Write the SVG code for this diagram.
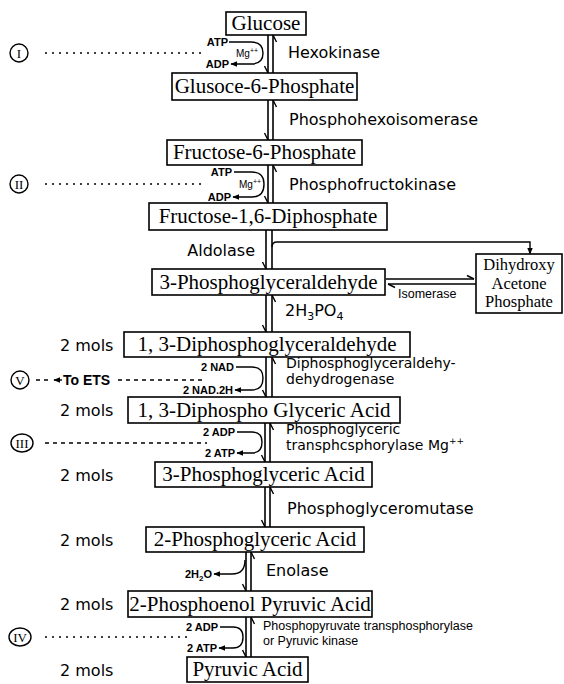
<svg xmlns="http://www.w3.org/2000/svg" width="564" height="684" viewBox="0 0 564 684">
<style>
.box{fill:#fff;stroke:#000;stroke-width:1.6}
.bt{font-family:"Liberation Serif","Times New Roman",serif;font-size:21px;fill:#000;text-anchor:middle}
.bt2{font-family:"Liberation Serif","Times New Roman",serif;font-size:16.5px;fill:#000;text-anchor:middle}
.enz{font-family:"DejaVu Sans","Liberation Sans",sans-serif;font-size:16px;fill:#000}
.enz2{font-family:"DejaVu Sans","Liberation Sans",sans-serif;font-size:14px;fill:#000}
.enz3{font-family:"Liberation Sans",Arial,sans-serif;font-size:12.5px;fill:#000}
.sm{font-family:"Liberation Sans",Arial,sans-serif;font-size:11px;font-weight:bold;fill:#000;text-anchor:end}
.mg{font-family:"Liberation Sans",Arial,sans-serif;font-size:10px;fill:#000}
.mol{font-family:"DejaVu Sans","Liberation Sans",sans-serif;font-size:16px;fill:#000}
.rn{font-family:"Liberation Serif","Times New Roman",serif;font-size:13px;fill:#000;text-anchor:middle}
.ets{font-family:"Liberation Sans",Arial,sans-serif;font-size:14px;font-weight:bold;fill:#000}
.ln{fill:none;stroke:#000;stroke-width:1.5}
.v{fill:none;stroke:#000;stroke-width:1.6;marker-end:url(#hp)}
.vn{fill:none;stroke:#000;stroke-width:1.6}
.cf{fill:none;stroke:#000;stroke-width:1.4;marker-end:url(#ah)}
.dot{fill:none;stroke:#000;stroke-width:1.6;stroke-dasharray:2 5}
.dash{fill:none;stroke:#000;stroke-width:1.4;stroke-dasharray:4 4}
.circ{fill:#fff;stroke:#000;stroke-width:1.4}
</style>
<defs>
<marker id="hp" markerUnits="userSpaceOnUse" viewBox="-9 -5 10 10" refX="0" refY="0" markerWidth="10" markerHeight="10" orient="auto" overflow="visible">
<path d="M0,0 L-7,3.5" fill="none" stroke="#000" stroke-width="1.4"/>
</marker>
<marker id="hpb" markerUnits="userSpaceOnUse" viewBox="-9 -5 10 10" refX="0" refY="0" markerWidth="10" markerHeight="10" orient="auto" overflow="visible">
<path d="M0,0 L-7,-3.5" fill="none" stroke="#000" stroke-width="1.4"/>
</marker>
<marker id="ah" markerUnits="userSpaceOnUse" viewBox="0 0 10 10" refX="9" refY="5" markerWidth="7" markerHeight="7" orient="auto">
<path d="M0,1 L10,5 L0,9 z" fill="#000"/>
</marker>
</defs>

<g id="connectors">
<path class="v" d="M268,35 V73"/>
<path class="v" d="M273,73 V35"/>
<path class="cf" d="M229,42 H251 Q263,42 263,53 Q263,64 251,64 H231"/>
<path class="v" d="M268,100 V140"/>
<path class="v" d="M273,140 V100"/>
<path class="v" d="M268,165 V203"/>
<path class="v" d="M273,203 V165"/>
<path class="cf" d="M234,172 H252 Q264,172 264,184 Q264,197 252,197 H233"/>
<path class="v" d="M266,230 V269"/>
<path class="vn" d="M272,269 V230"/>
<path class="cf" d="M272,247 Q272,242 277,242 H530 V254"/>
<path class="ln" d="M386,279 H474" marker-end="url(#hpb)"/>
<path class="ln" d="M476,284 H388" marker-end="url(#hpb)"/>
<path class="v" d="M266,295 V332"/>
<path class="v" d="M272,332 V295"/>
<path class="v" d="M266,357 V397"/>
<path class="v" d="M272,397 V357"/>
<path class="cf" d="M236,367 H252 Q263,367 263,378 Q263,390 252,390 H235"/>
<path class="v" d="M265,423 V462"/>
<path class="v" d="M270,462 V423"/>
<path class="cf" d="M237,432 H252 Q262,432 262,442 Q262,453 252,453 H237"/>
<path class="v" d="M265,487 V527"/>
<path class="v" d="M270,527 V487"/>
<path class="v" d="M246,552 V591"/>
<path class="v" d="M251,591 V552"/>
<path class="cf" d="M245,560 Q245,574 232,574 H214"/>
<path class="v" d="M246,617 V657"/>
<path class="v" d="M251,657 V617"/>
<path class="cf" d="M220,627 H233 Q243,627 243,637 Q243,648 233,648 H219"/>
<path class="dot" d="M45,53 H205"/>
<path class="dot" d="M45,184 H205"/>
<path class="dash" d="M36,380 H52"/>
<path class="cf" d="M62,380 H54"/>
<path class="dash" d="M118,380 H206"/>
<path class="dash" d="M45,443 H207"/>
<path class="dot" d="M45,637 H190"/>
</g>

<g id="markers">
<circle class="circ" cx="19" cy="53" r="9"/><text class="rn" x="19" y="58">I</text>
<circle class="circ" cx="19" cy="184" r="9"/><text class="rn" x="19" y="189">II</text>
<circle class="circ" cx="20" cy="380" r="9"/><text class="rn" x="20" y="385">V</text>
<ellipse class="circ" cx="22" cy="443" rx="11" ry="9"/><text class="rn" x="22" y="448">III</text>
<ellipse class="circ" cx="20" cy="637" rx="11" ry="9"/><text class="rn" x="20" y="642">IV</text>
<text class="ets" x="63" y="385">To ETS</text>
</g>

<g id="glucose"><rect class="box" x="226" y="12" width="80" height="23"/><text class="bt" x="266" y="30">Glucose</text></g>
<g id="g6p"><rect class="box" x="172" y="73" width="185" height="27"/><text class="bt" x="264.5" y="93">Glusoce-6-Phosphate</text></g>
<g id="f6p"><rect class="box" x="167" y="140" width="195" height="25"/><text class="bt" x="264.5" y="159">Fructose-6-Phosphate</text></g>
<g id="f16dp"><rect class="box" x="149" y="203" width="238" height="27"/><text class="bt" x="268" y="223">Fructose-1,6-Diphosphate</text></g>
<g id="pgal"><rect class="box" x="152" y="269" width="233" height="26"/><text class="bt" x="268.5" y="289">3-Phosphoglyceraldehyde</text></g>
<g id="dhap"><rect class="box" x="476" y="254" width="86" height="59"/><text class="bt2" x="519" y="270">Dihydroxy</text><text class="bt2" x="519" y="288.5">Acetone</text><text class="bt2" x="519" y="307">Phosphate</text></g>
<g id="dpgal"><rect class="box" x="124" y="332" width="286" height="25"/><text class="bt" x="267" y="351">1, 3-Diphosphoglyceraldehyde</text></g>
<g id="dpga"><rect class="box" x="128" y="397" width="272" height="26"/><text class="bt" x="264" y="417">1, 3-Diphospho Glyceric Acid</text></g>
<g id="pga3"><rect class="box" x="155" y="462" width="217" height="25"/><text class="bt" x="263.5" y="481">3-Phosphoglyceric Acid</text></g>
<g id="pga2"><rect class="box" x="146" y="527" width="218" height="25"/><text class="bt" x="255" y="546">2-Phosphoglyceric Acid</text></g>
<g id="pep"><rect class="box" x="128" y="591" width="244" height="26"/><text class="bt" x="250" y="611">2-Phosphoenol Pyruvic Acid</text></g>
<g id="pyruvate"><rect class="box" x="187" y="657" width="121" height="25"/><text class="bt" x="247.5" y="676">Pyruvic Acid</text></g>

<g id="enzymes">
<text class="enz" x="288" y="58">Hexokinase</text>
<text class="enz" x="289" y="125">Phosphohexoisomerase</text>
<text class="enz" x="289" y="190">Phosphofructokinase</text>
<text class="enz" x="255" y="256" text-anchor="end">Aldolase</text>
<text class="enz3" x="398" y="298">Isomerase</text>
<text class="enz" x="285" y="316">2H<tspan font-size="11" dy="4">3</tspan><tspan dy="-4">PO</tspan><tspan font-size="11" dy="4">4</tspan></text>
<text class="enz2" x="286" y="368">Diphosphoglyceraldehy-</text>
<text class="enz2" x="286" y="384">dehydrogenase</text>
<text class="enz2" x="286" y="434">Phosphoglyceric</text>
<text class="enz2" x="286" y="450">transphcsphorylase Mg<tspan font-size="9" dy="-6">++</tspan></text>
<text class="enz" x="287" y="514">Phosphoglyceromutase</text>
<text class="enz" x="266" y="576">Enolase</text>
<text class="enz3" x="263" y="630">Phosphopyruvate transphosphorylase</text>
<text class="enz3" x="263" y="645">or Pyruvic kinase</text>
</g>

<g id="cofactors">
<text class="sm" x="228" y="46">ATP</text>
<text class="sm" x="229" y="68">ADP</text>
<text class="mg" x="236" y="57">Mg<tspan font-size="7" dy="-4">++</tspan></text>
<text class="sm" x="232" y="176">ATP</text>
<text class="sm" x="231" y="201">ADP</text>
<text class="mg" x="239" y="188">Mg<tspan font-size="7" dy="-4">++</tspan></text>
<text class="sm" x="234" y="371">2 NAD</text>
<text class="sm" x="233" y="394">2 NAD.2H</text>
<text class="sm" x="235" y="436">2 ADP</text>
<text class="sm" x="235" y="457">2 ATP</text>
<text class="sm" x="212" y="578">2H<tspan font-size="8" dy="3">2</tspan><tspan dy="-3">O</tspan></text>
<text class="sm" x="218" y="631">2 ADP</text>
<text class="sm" x="217" y="652">2 ATP</text>
</g>

<g id="mols">
<text class="mol" x="60" y="351">2 mols</text>
<text class="mol" x="60" y="416">2 mols</text>
<text class="mol" x="60" y="481">2 mols</text>
<text class="mol" x="60" y="546">2 mols</text>
<text class="mol" x="60" y="610">2 mols</text>
<text class="mol" x="60" y="676">2 mols</text>
</g>
</svg>
